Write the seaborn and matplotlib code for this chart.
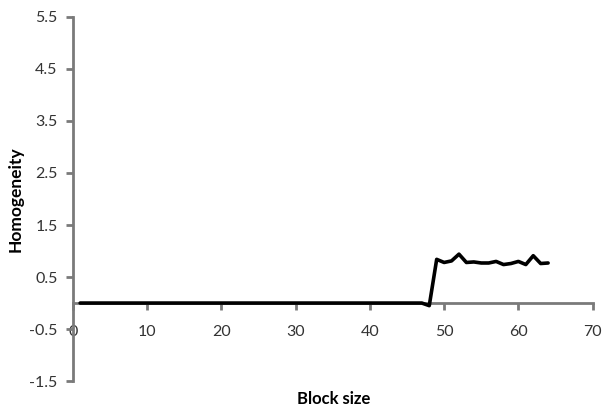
import matplotlib
matplotlib.use("Agg")
import matplotlib.pyplot as plt
import seaborn as sns
import pandas as pd

block_size = list(range(1, 65))
homogeneity = [0.0] * 47 + [-0.05,
               0.84, 0.78, 0.81, 0.94, 0.78, 0.79, 0.77, 0.77,
               0.80, 0.74, 0.76, 0.80, 0.74, 0.91, 0.76, 0.77]
x_ticks = [0, 10, 20, 30, 40, 50, 60, 70]
y_ticks = [-1.5, -0.5, 0.5, 1.5, 2.5, 3.5, 4.5, 5.5]

sns.set_theme(style="white")
plt.rcParams['font.family'] = ['Lato', 'DejaVu Sans']

df = pd.DataFrame({"Block size": block_size, "Homogeneity": homogeneity})

fig = plt.figure(figsize=(6.06, 4.12), dpi=100)
ax = fig.add_axes([0.12, 0.075, 0.858, 0.884])
sns.lineplot(data=df, x="Block size", y="Homogeneity", color="black",
             linewidth=2.6, ax=ax)
for ln in ax.lines:
    ln.set_solid_joinstyle("round")
    ln.set_solid_capstyle("round")

ax.set_xlim(0, 70)
ax.set_ylim(-1.5, 5.5)
ax.set_xticks(x_ticks)
ax.set_yticks(y_ticks)
ax.set_xticklabels([str(v) for v in x_ticks])
ax.set_yticklabels([str(v) for v in y_ticks])

gray = "#7a7a7a"
for s in ["top", "right"]:
    ax.spines[s].set_visible(False)
ax.spines["bottom"].set_position(("data", 0))
ax.spines["left"].set_position(("data", 0))
for s in ["bottom", "left"]:
    ax.spines[s].set_color(gray)
    ax.spines[s].set_linewidth(2.0)
ax.spines["bottom"].set_zorder(1)

ax.tick_params(axis="both", which="major", direction="out", length=5,
               width=2.0, color=gray, labelsize=11.5, labelcolor="#333333")
ax.tick_params(axis="x", pad=11, bottom=True)
ax.tick_params(axis="y", pad=6, left=True)

ax.set_xlabel("")
ax.set_ylabel("")
fig.text(0.551, 0.032, "Block size", fontsize=12, fontweight="bold",
         ha="center", va="center", color="black")
fig.text(0.025, 0.517, "Homogeneity", fontsize=12.5, fontweight="bold",
         rotation=90, ha="center", va="center", color="black")

fig.savefig("out.png", dpi=100)
